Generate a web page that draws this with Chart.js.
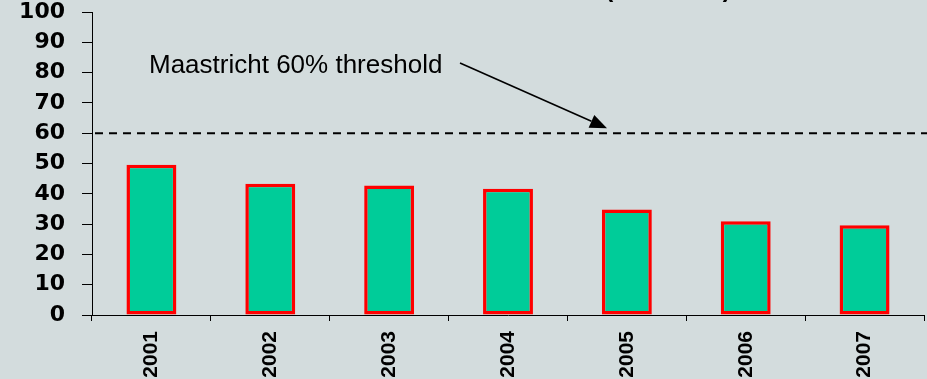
<!DOCTYPE html>
<html>
<head>
<meta charset="utf-8">
<script src="https://cdn.jsdelivr.net/npm/chart.js@4"></script>
<style>
  html, body { margin: 0; padding: 0; background: #d3dcdd; }
  #wrap { width: 927px; height: 379px; position: relative; }
</style>
</head>
<body>
<div id="wrap"><canvas id="chart"></canvas></div>
<script>
// Government debt ratio by year
const years = ['2001', '2002', '2003', '2004', '2005', '2006', '2007'];
const debtRatio = [49.6, 43.3, 42.7, 41.7, 34.8, 30.9, 29.6];
const yTickValues = [0, 10, 20, 30, 40, 50, 60, 70, 80, 90, 100];
const thresholdValue = 60;
const thresholdLabel = 'Maastricht 60% threshold';
const titleText = '(% of GDP)';

// Dashed reference line, its label with arrow, and the (clipped) title
const thresholdPlugin = {
  id: 'threshold',
  afterDraw(chart) {
    const { ctx, chartArea, scales } = chart;
    const y = scales.y.getPixelForValue(thresholdValue);
    ctx.save();

    // title sits mostly above the canvas edge
    ctx.fillStyle = '#000';
    ctx.font = 'bold 24px "Liberation Sans", Arial, sans-serif';
    ctx.textAlign = 'center';
    ctx.textBaseline = 'alphabetic';
    ctx.fillText(titleText, 668, -3);

    // dashed threshold line
    ctx.strokeStyle = '#000';
    ctx.lineWidth = 2;
    ctx.setLineDash([8, 6]);
    ctx.beginPath();
    ctx.moveTo(chartArea.left + 3, y);
    ctx.lineTo(chart.width, y);
    ctx.stroke();
    ctx.setLineDash([]);

    // label
    ctx.font = '26px "Liberation Sans", Arial, sans-serif';
    ctx.textAlign = 'left';
    ctx.fillText(thresholdLabel, 149, 73);

    // arrow pointing at the line
    const x0 = 460, y0 = 63;
    const x1 = 607, y1 = y - 5;
    const ang = Math.atan2(y1 - y0, x1 - x0);
    const headLen = 17, headHalf = 7;
    const bx = x1 - headLen * Math.cos(ang);
    const by = y1 - headLen * Math.sin(ang);
    ctx.lineWidth = 1.6;
    ctx.beginPath();
    ctx.moveTo(x0, y0);
    ctx.lineTo(bx, by);
    ctx.stroke();
    ctx.beginPath();
    ctx.moveTo(x1, y1);
    ctx.lineTo(bx + headHalf * Math.sin(ang), by - headHalf * Math.cos(ang));
    ctx.lineTo(bx - headHalf * Math.sin(ang), by + headHalf * Math.cos(ang));
    ctx.closePath();
    ctx.fill();

    ctx.restore();
  }
};

new Chart(document.getElementById('chart'), {
  type: 'bar',
  data: {
    labels: years,
    datasets: [{
      data: debtRatio,
      backgroundColor: '#00cc99',
      borderColor: '#ff0000',
      borderWidth: 3.5,
      borderSkipped: false,
      barPercentage: 0.42,
      categoryPercentage: 1.0
    }]
  },
  options: {
    responsive: true,
    maintainAspectRatio: false,
    animation: false,
    devicePixelRatio: 1,
    layout: { padding: { top: 12, right: 3, bottom: 0, left: 0 } },
    plugins: {
      legend: { display: false },
      tooltip: { enabled: false },
      title: { display: false }
    },
    scales: {
      x: {
        offset: true,
        grid: {
          display: true,
          offset: true,
          drawOnChartArea: false,
          drawTicks: true,
          tickLength: 6,
          color: '#000'
        },
        border: { display: true, color: '#000', width: 1 },
        ticks: {
          autoSkip: false,
          minRotation: 90,
          maxRotation: 90,
          padding: 10,
          color: '#000',
          font: { family: '"Liberation Sans", Arial, sans-serif', weight: 'bold', size: 21, lineHeight: 1 }
        },
        afterFit(scale) {
          scale.height = 64;
          scale.paddingLeft = 0;
          scale.paddingRight = 0;
        }
      },
      y: {
        min: 0,
        max: 100,
        grid: {
          display: true,
          drawOnChartArea: false,
          drawTicks: true,
          tickLength: 10,
          color: '#000'
        },
        border: { display: true, color: '#000', width: 1 },
        ticks: {
          stepSize: 10,
          padding: 17,
          color: '#000',
          font: { family: '"DejaVu Sans", sans-serif', weight: 'bold', size: 22, lineHeight: 1 }
        },
        afterBuildTicks(scale) {
          scale.ticks = yTickValues.map(v => ({ value: v }));
        },
        afterFit(scale) {
          scale.width = 92;
          scale.paddingTop = 0;
          scale.paddingBottom = 0;
        }
      }
    }
  },
  plugins: [thresholdPlugin]
});
</script>
</body>
</html>
